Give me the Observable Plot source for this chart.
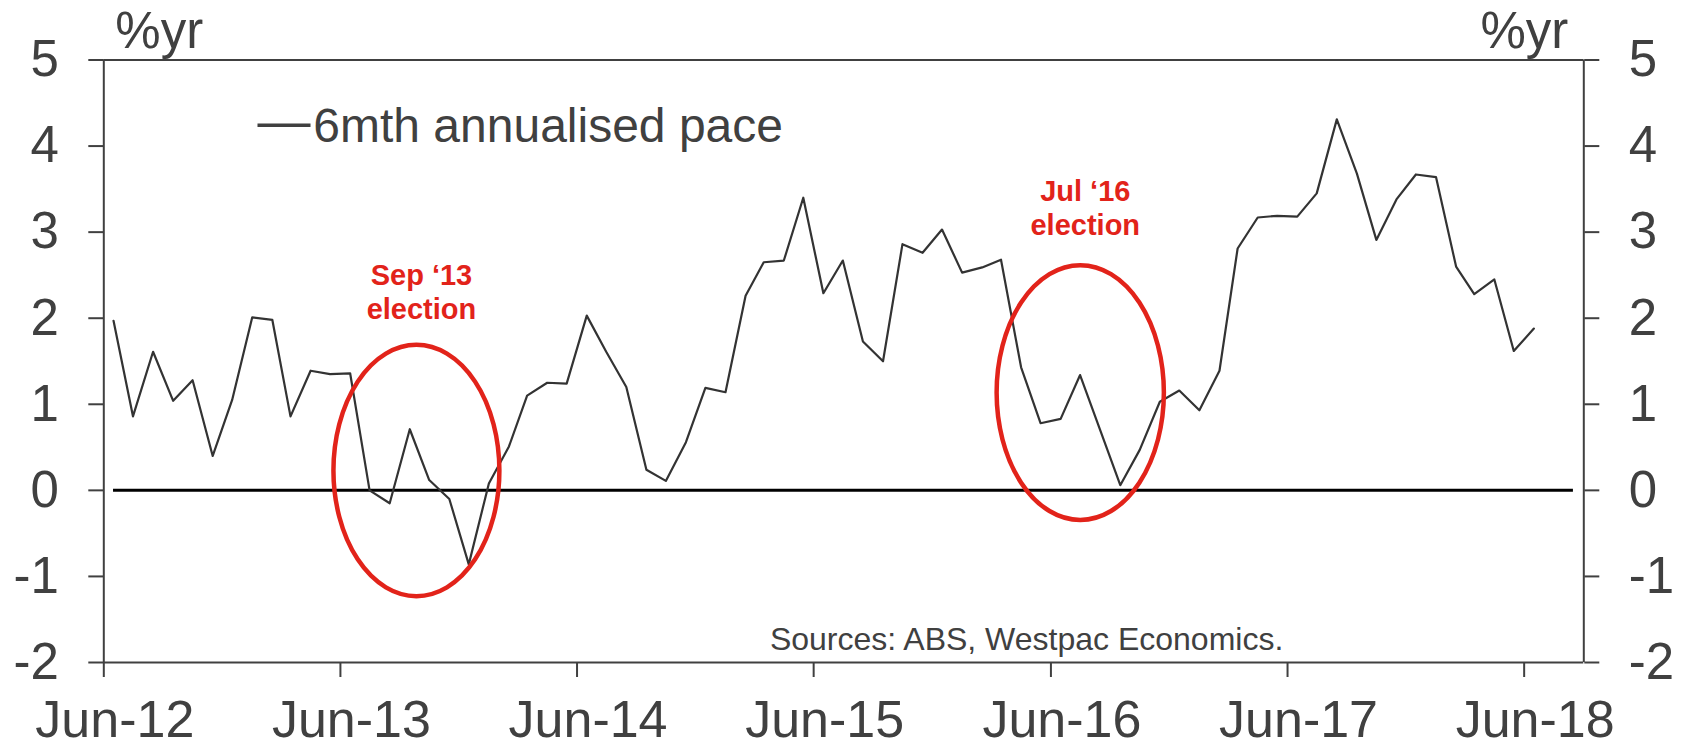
<!DOCTYPE html>
<html>
<head>
<meta charset="utf-8">
<script src="https://cdn.jsdelivr.net/npm/d3@7"></script>
<script src="https://cdn.jsdelivr.net/npm/@observablehq/plot@0.6"></script>
<style>
  html, body { margin: 0; padding: 0; background: #fff; }
  svg { display: block; }
</style>
</head>
<body>
<div id="chart"></div>
<script>
// ---------------- data ----------------
const firstMonth = "2012-06";   // first observation
const monthCount = 73;          // Jun-12 .. Jun-18, monthly
const paceValues = [
  1.97, 0.86, 1.61, 1.04, 1.28, 0.40, 1.05, 2.01, 1.98, 0.86, 1.39, 1.35,
  1.36, 0.00, -0.15, 0.71, 0.12, -0.10, -0.86, 0.08, 0.51, 1.10, 1.25, 1.24,
  2.03, 1.61, 1.20, 0.24, 0.11, 0.56, 1.19, 1.14, 2.26, 2.65, 2.67, 3.40,
  2.29, 2.67, 1.73, 1.50, 2.86, 2.76, 3.03, 2.53, 2.59, 2.68, 1.43, 0.78,
  0.83, 1.34, 0.70, 0.06, 0.47, 1.03, 1.16, 0.93, 1.39, 2.81, 3.17, 3.19,
  3.18, 3.45, 4.31, 3.68, 2.91, 3.38, 3.67, 3.64, 2.60, 2.28, 2.45, 1.62,
  1.88
];
const seriesName = "6mth annualised pace";
const zeroLineMonths = ["2012-06", "2018-08"];
const xDomainDates = ["2012-06-01", "2018-09-01"];
const xTickLabels = ["Jun-12", "Jun-13", "Jun-14", "Jun-15", "Jun-16", "Jun-17", "Jun-18"];
const yTicks = [-2, -1, 0, 1, 2, 3, 4, 5];
const yUnit = "%yr";
const sourceNote = "Sources: ABS, Westpac Economics.";

// election annotations (centre in data units, half-extent in days / %yr)
const electionLabels = ["Sep \u201813\nelection", "Jul \u201816\nelection"];
const electionLabelDates = ["2013-10-04", "2016-07-24"];
const electionLabelValues = [2.31, 3.29];
const ellipseCentreDates = ["2013-09-27", "2016-07-17"];
const ellipseCentreValues = [0.225, 1.13];
const ellipseHalfWidthDays = [128, 129];
const ellipseHalfHeights = [1.46, 1.48];

// ---------------- build ----------------
const parseMonth = d3.utcParse("%Y-%m");
const parseDay = d3.utcParse("%Y-%m-%d");
const parseTick = d3.utcParse("%b-%y");
const midMonth = (m) => d3.utcDay.offset(m, 15);

const months = d3.utcMonth.range(parseMonth(firstMonth), d3.utcMonth.offset(parseMonth(firstMonth), monthCount));
const series = months.map((m, i) => ({date: midMonth(m), value: paceValues[i]}));
const xTicks = xTickLabels.map(l => ({date: parseTick(l), label: l}));
const zeroSpan = zeroLineMonths.map(m => midMonth(parseMonth(m)));
const electionText = electionLabels.map((t, i) => ({text: t, date: parseDay(electionLabelDates[i]), value: electionLabelValues[i]}));

const ink = "#404040";
const red = "#e2231a";
const font = "'Liberation Sans', Arial, Helvetica, sans-serif";

const W = 1685, H = 748;
const plot = Plot.plot({
  width: W,
  height: H,
  marginLeft: 103.3,
  marginRight: W - 1583.3,
  marginTop: 59.5,
  marginBottom: H - 662,
  style: {fontFamily: font, background: "#fff", color: ink, overflow: "visible"},
  x: {type: "utc", domain: xDomainDates.map(parseDay)},
  y: {domain: [yTicks[0], yTicks[yTicks.length - 1]]},
  marks: [
    // frame lines
    Plot.ruleY([yTicks[0], yTicks[yTicks.length - 1]], {stroke: ink, strokeWidth: 2}),
    Plot.ruleX([parseDay(xDomainDates[0]), parseDay(xDomainDates[1])], {stroke: ink, strokeWidth: 2}),
    // y axes
    Plot.axisY(yTicks, {anchor: "left", label: null, tickSize: 15, tickPadding: 30, fontSize: 51,
      stroke: ink, strokeWidth: 2, fill: ink, tickFormat: d => String(d)}),
    Plot.axisY(yTicks, {anchor: "right", label: null, tickSize: 15, tickPadding: 30, fontSize: 51,
      stroke: ink, strokeWidth: 2, fill: ink, tickFormat: d => String(d)}),
    // x axis ticks (labels drawn separately)
    Plot.axisX(xTicks.map(d => d.date), {anchor: "bottom", label: null, tickSize: 15, tickFormat: () => "",
      stroke: ink, strokeWidth: 2}),
    // x axis labels
    Plot.text(xTicks, {x: "date", text: "label", frameAnchor: "bottom", lineAnchor: "top",
      dy: 38, dx: 11, fontSize: 52, fill: ink}),
    // zero line
    Plot.ruleY([0], {x1: zeroSpan[0], x2: zeroSpan[1], stroke: "#000", strokeWidth: 3}),
    // series
    Plot.line(series, {x: "date", y: "value", stroke: "#333", strokeWidth: 2.2}),
    // unit labels
    Plot.text([yUnit], {text: d => d, frameAnchor: "top-left", textAnchor: "start", lineAnchor: "bottom",
      dx: 11.5, dy: -12.5, fontSize: 51, fill: ink}),
    Plot.text([yUnit], {text: d => d, frameAnchor: "top-right", textAnchor: "end", lineAnchor: "bottom",
      dx: -15.5, dy: -12.5, fontSize: 51, fill: ink}),
    // legend
    Plot.text(["\u2014"], {text: d => d, frameAnchor: "top-left", textAnchor: "start", lineAnchor: "bottom",
      dx: 153.7, dy: 79, fontSize: 53, fill: ink}),
    Plot.text([seriesName], {text: d => d, frameAnchor: "top-left", textAnchor: "start", lineAnchor: "bottom",
      dx: 209.5, dy: 82.2, fontSize: 48, fill: ink}),
    // source
    Plot.text([sourceNote], {text: d => d, frameAnchor: "bottom-right", textAnchor: "end", lineAnchor: "bottom",
      dx: -300.5, dy: -12.7, fontSize: 32, fill: ink}),
    // election labels
    Plot.text(electionText, {x: "date", y: "value", text: "text", fill: red, fontSize: 29, fontWeight: "bold",
      lineHeight: 1.16, textAnchor: "middle", lineAnchor: "middle"})
  ]
});

// election ellipses, placed through the plot's own scales
const xs = plot.scale("x"), ys = plot.scale("y");
const g = d3.select(plot).append("g").attr("fill", "none").attr("stroke", red).attr("stroke-width", 4.5);
ellipseCentreDates.forEach((ds, i) => {
  const c = parseDay(ds);
  const cx = xs.apply(c), cy = ys.apply(ellipseCentreValues[i]);
  const rx = xs.apply(d3.utcDay.offset(c, ellipseHalfWidthDays[i])) - cx;
  const ry = cy - ys.apply(ellipseCentreValues[i] + ellipseHalfHeights[i]);
  g.append("ellipse").attr("cx", cx).attr("cy", cy).attr("rx", rx).attr("ry", ry);
});

document.getElementById("chart").appendChild(plot);
</script>
</body>
</html>
